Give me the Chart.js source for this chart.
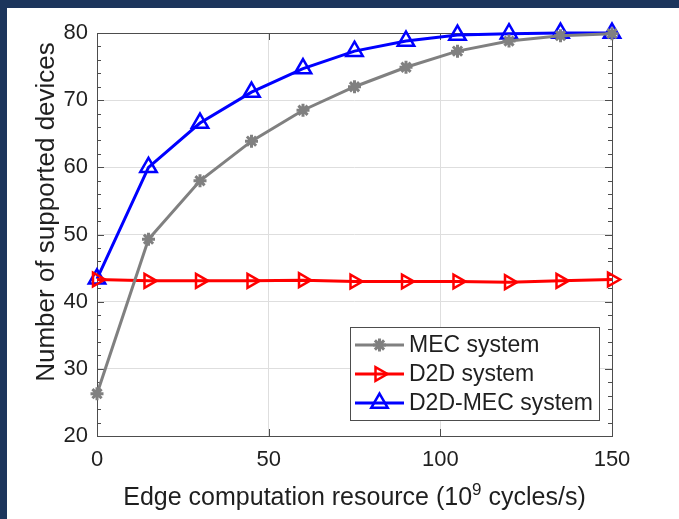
<!DOCTYPE html>
<html>
<head>
<meta charset="utf-8">
<title>Number of supported devices vs. edge computation resource</title>
<script src="https://cdn.jsdelivr.net/npm/chart.js@4.4.0/dist/chart.umd.min.js"></script>
<style>
  html, body { margin: 0; padding: 0; background: #ffffff; }
  #wrap { width: 679px; height: 519px; position: relative; }
</style>
</head>
<body>
<div id="wrap"><canvas id="c" width="679" height="519"></canvas></div>
<script>
// Edge computation resource (10^9 cycles/s)
const resource = [0, 15, 30, 45, 60, 75, 90, 105, 120, 135, 150];

// Number of supported devices for each system
const mecSystem    = [26.3, 49.3, 58.0, 63.9, 68.5, 72.0, 74.9, 77.3, 78.8, 79.6, 79.9];
const d2dSystem    = [43.3, 43.1, 43.1, 43.1, 43.2, 43.0, 43.0, 43.0, 42.9, 43.1, 43.3];
const d2dMecSystem = [43.4, 60.0, 66.6, 71.2, 74.7, 77.3, 78.8, 79.7, 79.9, 80.0, 80.0];

const seriesNames = ['MEC system', 'D2D system', 'D2D-MEC system'];

// Tick labels
const xTicks = [0, 50, 100, 150];
const yTicks = [20, 30, 40, 50, 60, 70, 80];

const xTitle = ['Edge computation resource (10', '9', ' cycles/s)'];
const yTitle = 'Number of supported devices';

const FONT = '"Liberation Sans", Arial, Helvetica, sans-serif';
const INK = '#1f1f1f';

function pts(values) {
  return resource.map((x, i) => ({ x: x, y: values[i] }));
}

const datasets = [
  {
    label: seriesNames[0], data: pts(mecSystem),
    borderColor: '#808080', backgroundColor: '#808080', borderWidth: 3,
    pointStyle: 'star', pointRadius: 6.5, pointBorderWidth: 3,
    pointBorderColor: '#808080', pointBackgroundColor: '#808080', pointRotation: 0
  },
  {
    label: seriesNames[1], data: pts(d2dSystem),
    borderColor: '#ff0000', backgroundColor: 'rgba(0,0,0,0)', borderWidth: 3,
    pointStyle: 'triangle', pointRadius: 8, pointBorderWidth: 2.5,
    pointBorderColor: '#ff0000', pointBackgroundColor: 'rgba(0,0,0,0)', pointRotation: 90
  },
  {
    label: seriesNames[2], data: pts(d2dMecSystem),
    borderColor: '#0000ff', backgroundColor: 'rgba(0,0,0,0)', borderWidth: 3,
    pointStyle: 'triangle', pointRadius: 9.5, pointBorderWidth: 2.5,
    pointBorderColor: '#0000ff', pointBackgroundColor: 'rgba(0,0,0,0)', pointRotation: 0
  }
].map(d => Object.assign({ tension: 0, clip: false, fill: false }, d));

// Frame band, axes box, inward ticks, axis titles and the legend
const figurePlugin = {
  id: 'figure',
  beforeDraw(chart) {
    const ctx = chart.ctx;
    ctx.save();
    ctx.fillStyle = '#ffffff';
    ctx.fillRect(0, 0, chart.width, chart.height);
    ctx.fillStyle = '#1c355c';
    ctx.fillRect(0, 0, chart.width, 8);
    ctx.fillRect(0, 0, 7, chart.height);
    ctx.restore();
  },
  beforeDatasetsDraw(chart) {
    const ctx = chart.ctx;
    const a = chart.chartArea;
    const xs = chart.scales.x, ys = chart.scales.y;
    ctx.save();
    ctx.strokeStyle = '#4d4d4d';
    ctx.lineWidth = 1;
    ctx.beginPath();
    // y ticks (major every 10, minor every 2) on both sides
    for (let v = yTicks[0]; v <= yTicks[yTicks.length - 1] + 1e-9; v += 2) {
      const py = Math.round(ys.getPixelForValue(v)) + 0.5;
      const len = (Math.round(v) % 10 === 0) ? 7 : 4;
      ctx.moveTo(a.left, py); ctx.lineTo(a.left + len, py);
      ctx.moveTo(a.right, py); ctx.lineTo(a.right - len, py);
    }
    // x ticks on bottom and top
    xTicks.forEach(v => {
      const px = Math.round(xs.getPixelForValue(v)) + 0.5;
      ctx.moveTo(px, a.bottom); ctx.lineTo(px, a.bottom - 7);
      ctx.moveTo(px, a.top); ctx.lineTo(px, a.top + 7);
    });
    ctx.stroke();
    ctx.strokeRect(Math.round(a.left) + 0.5, Math.round(a.top) + 0.5,
                   Math.round(a.right - a.left), Math.round(a.bottom - a.top));
    ctx.restore();
  },
  afterDraw(chart) {
    const ctx = chart.ctx;
    const a = chart.chartArea;
    ctx.save();
    ctx.fillStyle = INK;

    // x axis title with superscript exponent
    const big = '25px ' + FONT, small = '17px ' + FONT;
    ctx.font = big;
    const w0 = ctx.measureText(xTitle[0]).width;
    const w2 = ctx.measureText(xTitle[2]).width;
    ctx.font = small;
    const w1 = ctx.measureText(xTitle[1]).width;
    let tx = (a.left + a.right) / 2 - (w0 + w1 + w2) / 2;
    const tBase = 505;
    ctx.textBaseline = 'alphabetic';
    ctx.textAlign = 'left';
    ctx.font = big; ctx.fillText(xTitle[0], tx, tBase); tx += w0;
    ctx.font = small; ctx.fillText(xTitle[1], tx, tBase - 10); tx += w1;
    ctx.font = big; ctx.fillText(xTitle[2], tx, tBase);

    // y axis title
    ctx.translate(54, 212);
    ctx.rotate(-Math.PI / 2);
    ctx.font = '26px ' + FONT;
    ctx.textAlign = 'center';
    ctx.fillText(yTitle, 0, 0);
    ctx.setTransform(1, 0, 0, 1, 0, 0);

    // legend
    const bx = 350.5, by = 327.5, bw = 249, bh = 93;
    ctx.fillStyle = '#ffffff';
    ctx.fillRect(bx, by, bw, bh);
    ctx.strokeStyle = '#4d4d4d';
    ctx.lineWidth = 1;
    ctx.strokeRect(bx, by, bw, bh);
    const rowY = [345, 374, 403];
    chart.data.datasets.forEach((ds, i) => {
      const y = rowY[i];
      ctx.strokeStyle = ds.borderColor;
      ctx.lineWidth = ds.borderWidth;
      ctx.beginPath();
      ctx.moveTo(355, y); ctx.lineTo(404, y);
      ctx.stroke();
      ctx.fillStyle = ds.pointBackgroundColor;
      ctx.strokeStyle = ds.pointBorderColor;
      ctx.lineWidth = ds.pointBorderWidth;
      Chart.helpers.drawPoint(ctx, {
        pointStyle: ds.pointStyle, radius: ds.pointRadius,
        rotation: ds.pointRotation, borderWidth: ds.pointBorderWidth
      }, 379.5, y);
      ctx.fillStyle = INK;
      ctx.font = '23px ' + FONT;
      ctx.textAlign = 'left';
      ctx.textBaseline = 'middle';
      ctx.fillText(ds.label, 409, y + 1);
    });
    ctx.restore();
  }
};

new Chart(document.getElementById('c'), {
  type: 'line',
  data: { datasets: datasets },
  options: {
    responsive: false,
    animation: false,
    layout: { padding: { left: 0, right: 67, top: 33, bottom: 0 } },
    plugins: { legend: { display: false }, tooltip: { enabled: false } },
    scales: {
      x: {
        type: 'linear', min: 0, max: 150,
        afterBuildTicks: s => { s.ticks = xTicks.map(v => ({ value: v })); },
        afterFit: s => { s.height = 83; },
        grid: { color: '#dedede', lineWidth: 1, drawTicks: false },
        border: { display: false },
        ticks: { color: INK, font: { family: FONT, size: 22 }, padding: 11, maxRotation: 0 }
      },
      y: {
        type: 'linear', min: 20, max: 80,
        afterBuildTicks: s => { s.ticks = yTicks.map(v => ({ value: v })); },
        afterFit: s => { s.width = 97; },
        grid: { color: '#dedede', lineWidth: 1, drawTicks: false },
        border: { display: false },
        ticks: { color: INK, font: { family: FONT, size: 22 }, padding: 9 }
      }
    }
  },
  plugins: [figurePlugin]
});
</script>
</body>
</html>
